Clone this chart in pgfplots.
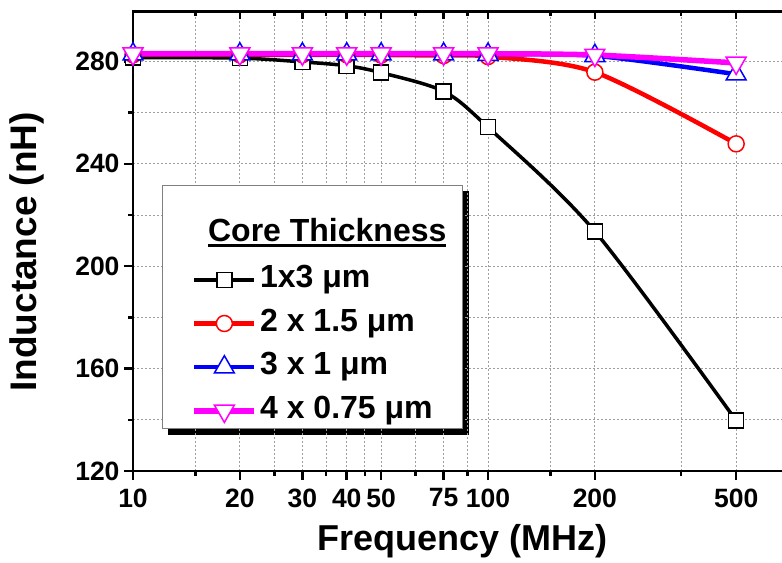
\documentclass[border=0pt]{standalone}
\usepackage{fontspec}
\setmainfont{Liberation Sans}
\usepackage{pgfplots}
\pgfplotsset{compat=1.18}
\usetikzlibrary{backgrounds}
\definecolor{mag}{RGB}{255,0,255}
\definecolor{myred}{RGB}{255,0,0}
\definecolor{myblue}{RGB}{0,0,255}
\newcommand\thickul[1]{\setbox0=\hbox{#1}\rlap{\rule[-5bp]{\wd0}{2.5bp}}\box0}
\begin{document}
\begin{tikzpicture}
\begin{axis}[
  scale only axis, width=655bp, height=459.5bp,
  xmode=log, xmin=10, xmax=700, ymin=120, ymax=299.5,
  xtick={10,20,30,40,50,75,100,200,500},
  minor xtick={15,25,35,45,62.5,87.5,150,350},
  major tick length=9bp, minor tick length=5bp,
  every tick/.style={line width=2.5bp, black},
  xticklabels={10,20,30,40,50,75,100,200,500},
  ytick={120,160,200,240,280},
  minor ytick={140,180,220,260},
  xtick pos=bottom, ytick pos=left,
  tick align=outside,
  axis line style={line width=2.5bp},
  grid=both,
  major grid style={gray!75, dash pattern=on 2bp off 2bp, line width=0.8bp},
  minor grid style={gray!75, dash pattern=on 2bp off 2bp, line width=0.8bp},
  /pgf/number format/assume math mode=true,
  tick label style={font=\bfseries\fontsize{26.5bp}{26.5bp}\selectfont},
  xticklabel style={yshift=-5bp},
  yticklabel style={xshift=-1bp},
  xlabel={Frequency (MHz)},
  ylabel={Inductance (nH)},
  every axis x label/.style={at={(axis description cs:0.503,-0.152)}, anchor=center, font=\bfseries\fontsize{36bp}{36bp}\selectfont},
  every axis y label/.style={at={(axis description cs:-0.162,0.477)}, anchor=center, rotate=90, font=\bfseries\fontsize{37bp}{37bp}\selectfont},
  legend image code/.code={\draw[mark repeat=2,mark phase=2] plot coordinates {(0bp,0bp)(30bp,0bp)(60bp,0bp)};},
  legend style={
    name=leg,
    at={(axis description cs:0.0443,0.6224)}, anchor=north west,
    draw=gray, line width=1.2bp, fill=white,
    font=\bfseries\fontsize{32bp}{32bp}\selectfont,
    inner xsep=29bp, inner ysep=1bp,
    row sep=10.7bp, column sep=2bp,
  },
  legend cell align=left,
]
\addlegendimage{empty legend}
\addlegendentry[inner sep=1bp, text height=54bp, text depth=10bp]{\hspace*{-52bp}\thickul{Core Thickness}\hspace*{-14bp}}
\addplot[black, line width=3.5bp, smooth, mark=square*, mark size=7.5bp,
  mark options={fill=white, draw=black, line width=1.5bp}]
  coordinates {(10,281.5)(20,281.3)(30,279.8)(40,278.3)(50,275.6)(75,268.3)(100,254.3)(200,213.6)(500,139.7)};
\addlegendentry[inner sep=1bp, text height=23bp, text depth=8bp]{1x3 μm}
\addplot[myred, line width=4.5bp, smooth, mark=*, mark size=8bp,
  mark options={fill=white, draw=myred, line width=1.5bp}]
  coordinates {(10,282.6)(20,282.6)(30,282.6)(40,282.6)(50,282.5)(75,282.3)(100,281.9)(200,275.8)(500,247.8)};
\addlegendentry[inner sep=1bp, text height=23bp, text depth=8bp]{2 x 1.5 μm}
\addplot[myblue, line width=4.5bp, smooth, mark=triangle*, mark size=11.5bp,
  mark options={fill=white, draw=myblue, line width=1.5bp}]
  coordinates {(10,282.8)(20,282.8)(30,282.8)(40,282.8)(50,282.8)(75,282.8)(100,282.7)(200,282.2)(500,275.0)};
\addlegendentry[inner sep=1bp, text height=23bp, text depth=8bp]{3 x 1 μm}
\addplot[mag, line width=5.5bp, smooth, mark=triangle*, mark size=11.5bp,
  mark options={fill=white, draw=mag, line width=1.5bp, rotate=180}]
  coordinates {(10,283)(20,283)(30,283)(40,283)(50,283)(75,283)(100,283)(200,282.5)(500,279.4)};
\addlegendentry[inner sep=1bp, text height=23bp, text depth=8bp]{4 x 0.75 μm}
\end{axis}
\begin{axis}[
  scale only axis, width=655bp, height=459.5bp,
  xmode=log, xmin=10, xmax=700, ymin=120, ymax=299.5,
  xtick={10,20,30,40,50,75,100,200,500},
  minor xtick={15,25,35,45,62.5,87.5,150,350},
  major tick length=8bp, minor tick length=5bp,
  every tick/.style={line width=2.5bp, black},
  axis x line*=top, hide y axis,
  xticklabels={}, tick align=inside,
  axis line style={draw=none},
]
\end{axis}
\begin{pgfonlayer}{background}
\fill[black] ([xshift=6bp,yshift=-6bp]leg.south west) rectangle ([xshift=6bp,yshift=-6bp]leg.north east);
\end{pgfonlayer}
\pgfresetboundingbox
\useasboundingbox (-133bp,-92bp) rectangle (649bp,471bp);
\end{tikzpicture}
\end{document}
